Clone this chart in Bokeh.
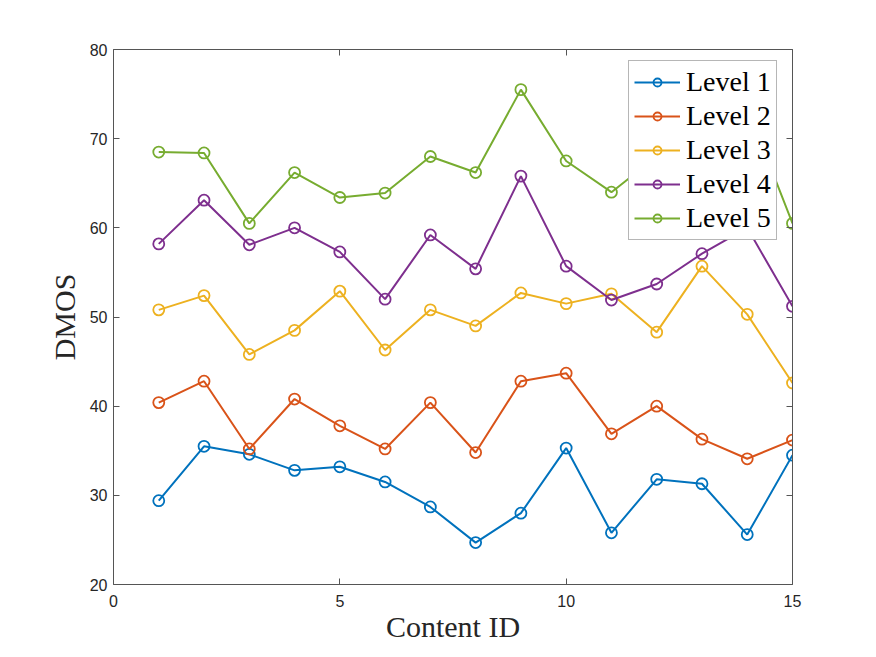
from bokeh.plotting import figure
from bokeh.models import (LinearAxis, Legend, LegendItem, FixedTicker, Range1d)
from bokeh.embed import file_html
from bokeh.resources import INLINE

content_id = list(range(1, 16))
level1 = [29.4, 35.5, 34.6, 32.8, 33.2, 31.5, 28.7, 24.7, 28.0, 35.3, 25.8, 31.8, 31.3, 25.6, 34.5]
level2 = [40.4, 42.8, 35.2, 40.8, 37.8, 35.2, 40.4, 34.8, 42.8, 43.7, 36.9, 40.0, 36.3, 34.1, 36.2]
level3 = [50.8, 52.4, 45.8, 48.5, 52.9, 46.3, 50.8, 49.0, 52.7, 51.5, 52.6, 48.3, 55.7, 50.3, 42.6]
level4 = [58.2, 63.1, 58.1, 60.0, 57.3, 52.0, 59.2, 55.4, 65.8, 55.7, 51.9, 53.7, 57.1, 60.0, 51.2]
level5 = [68.5, 68.4, 60.5, 66.2, 63.4, 63.9, 68.0, 66.2, 75.5, 67.5, 64.0, 68.0, 71.0, 73.5, 60.5]
series_names = ["Level 1", "Level 2", "Level 3", "Level 4", "Level 5"]
series = [level1, level2, level3, level4, level5]
colors = ["#0072BD", "#D95319", "#EDB120", "#7E2F8E", "#77AC30"]
x_ticks = [0, 5, 10, 15]
y_ticks = [20, 30, 40, 50, 60, 70, 80]

AX = "#262626"
AXL = "#555555"

p = figure(width=876, height=657, output_backend="svg", toolbar_location=None,
           x_range=Range1d(0, 15), y_range=Range1d(20, 80),
           min_border_left=113, min_border_right=84, min_border_top=49,
           min_border_bottom=73, x_axis_location=None, y_axis_location=None)
p.grid.visible = False
p.outline_line_color = None
p.background_fill_color = "white"
p.border_fill_color = "white"

def style_axis(ax, labels=True):
    ax.axis_line_color = AXL
    ax.axis_line_width = 1
    ax.major_tick_line_color = AXL
    ax.major_tick_in = 6
    ax.major_tick_out = 0
    ax.minor_tick_line_color = None
    ax.major_label_text_font = "Liberation Sans"
    ax.major_label_text_font_size = "16px"
    ax.major_label_text_color = AX
    if not labels:
        ax.major_label_text_font_size = "0px"
        ax.major_label_text_alpha = 0

xb = LinearAxis(ticker=FixedTicker(ticks=x_ticks), axis_label="Content ID")
style_axis(xb)
xb.major_label_standoff = 10
xb.axis_label_text_font = "Liberation Serif"
xb.axis_label_text_font_size = "30px"
xb.axis_label_text_font_style = "normal"
xb.axis_label_text_color = AX
xb.axis_label_standoff = 0
p.add_layout(xb, "below")

yl = LinearAxis(ticker=FixedTicker(ticks=y_ticks), axis_label="DMOS")
style_axis(yl)
yl.major_label_standoff = 6
yl.axis_label_text_font = "Liberation Serif"
yl.axis_label_text_font_size = "30px"
yl.axis_label_text_font_style = "normal"
yl.axis_label_text_color = AX
yl.axis_label_standoff = 6
p.add_layout(yl, "left")

xt = LinearAxis(ticker=FixedTicker(ticks=x_ticks))
style_axis(xt, labels=False)
p.add_layout(xt, "above")

yr = LinearAxis(ticker=FixedTicker(ticks=y_ticks))
style_axis(yr, labels=False)
p.add_layout(yr, "right")

items = []
for name, vals, c in zip(series_names, series, colors):
    lr = p.line(content_id, vals, line_color=c, line_width=2)
    sr = p.scatter(content_id, vals, marker="circle", size=11, fill_color=None,
                   line_color=c, line_width=1.8)
    items.append(LegendItem(label=name, renderers=[lr, sr]))

legend = Legend(items=items, location=(515, 344), margin=0, padding=5,
                spacing=2, glyph_width=46, glyph_height=20, label_height=32,
                label_standoff=6, label_text_font="Liberation Serif",
                label_text_font_size="28px", label_text_color="black",
                border_line_color="#6e6e6e", border_line_width=1,
                background_fill_color="white", background_fill_alpha=1)
p.add_layout(legend, "center")

open("out.html", "w").write(file_html(p, INLINE))
